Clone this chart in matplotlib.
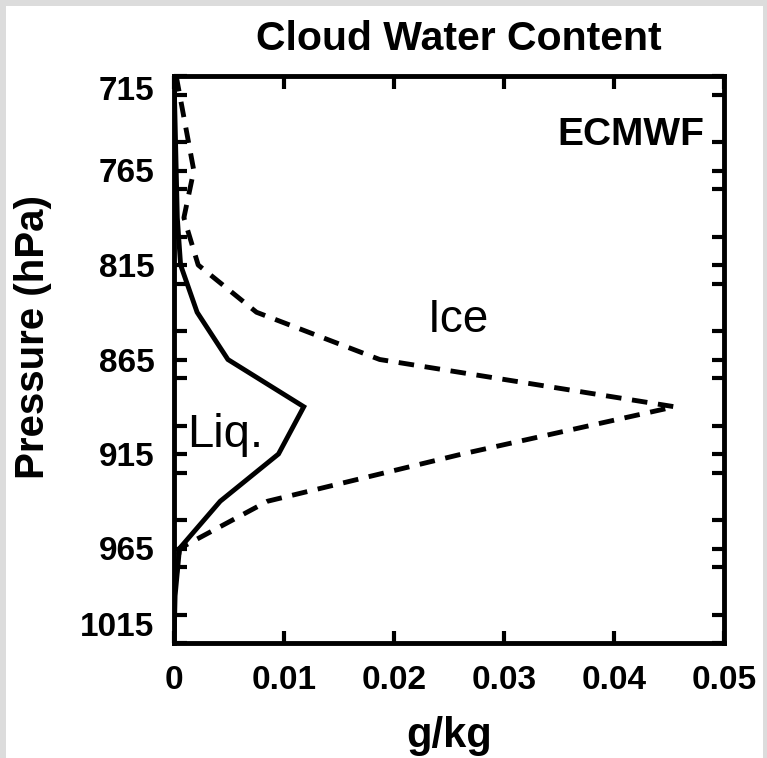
import matplotlib
matplotlib.use('Agg')
import matplotlib.pyplot as plt
from matplotlib.patches import Rectangle
from matplotlib.ticker import MultipleLocator

plt.rcParams['font.family'] = ['Liberation Sans', 'DejaVu Sans']

# pressure levels (hPa) and mixing ratios (g/kg)
pressure = [715, 740, 765, 790, 815, 840, 865, 890, 915, 940, 965, 990, 1015]
liquid = [0.0, 0.0001, 0.0002, 0.0003, 0.0006, 0.0021, 0.0049, 0.0118,
          0.0095, 0.0042, 0.0005, 0.0001, 0.0]
ice = [0.0002, 0.0010, 0.0018, 0.0009, 0.0022, 0.0075, 0.0187, 0.0455,
       0.0262, 0.0085, 0.0005, 0.0, 0.0]

xticks = [0, 0.01, 0.02, 0.03, 0.04, 0.05]
xticklabels = ['0', '0.01', '0.02', '0.03', '0.04', '0.05']
yticks = [715, 765, 815, 865, 915, 965, 1015]

fig = plt.figure(figsize=(7.67, 7.58), dpi=100, facecolor='#dcdcdc')
fig.patches.append(Rectangle((6/767, 0), 757/767, 752/758, transform=fig.transFigure,
                             facecolor='white', edgecolor='none', zorder=-10))
ax = fig.add_axes([174/767, 1 - 643/758, 550/767, 567/758])

ax.plot(liquid, pressure, color='black', lw=3.5, solid_joinstyle='miter')
ax.plot(ice, pressure, color='black', lw=3.5, linestyle=(0, (3.2, 2.2)))

ax.set_xlim(0, 0.05)
ax.set_ylim(1015, 715)
ax.set_xticks(xticks)
ax.set_xticklabels(xticklabels)
ax.set_yticks(yticks)
ax.yaxis.set_minor_locator(MultipleLocator(25))

ax.tick_params(which='both', direction='in', top=True, right=True, width=3, length=9)
ax.tick_params(axis='x', which='major', labelsize=24, pad=16)
ax.tick_params(axis='y', which='major', labelsize=24, pad=14)
for lab in ax.get_xticklabels() + ax.get_yticklabels():
    lab.set_fontweight('bold')
ylabs = ax.get_yticklabels()
ylabs[0].set_va('top')
ylabs[-1].set_va('bottom')
for s in ax.spines.values():
    s.set_linewidth(3.5)

ax.set_title('Cloud Water Content', fontsize=29.5, fontweight='bold', pad=19, x=0.518)
ax.set_xlabel('g/kg', fontsize=30, fontweight='bold', labelpad=14)
ax.set_ylabel('Pressure (hPa)', fontsize=29, fontweight='bold')
ax.yaxis.set_label_coords(-0.222, 0.54)

ax.text(0.0482, 746, 'ECMWF', fontsize=28, fontweight='bold', ha='right', va='center')
ax.text(0.0231, 844, 'Ice', fontsize=33, ha='left', va='center')
ax.text(0.0012, 905, 'Liq.', fontsize=34, ha='left', va='center')

fig.savefig('out.png', dpi=100, facecolor=fig.get_facecolor())
